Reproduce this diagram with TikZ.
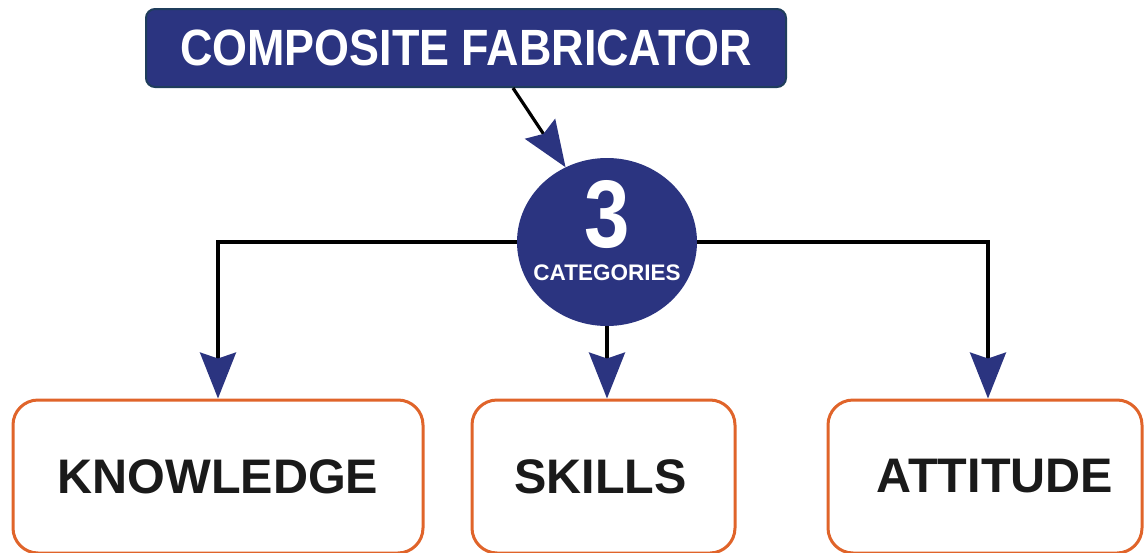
\documentclass[tikz,border=0pt]{standalone}
\usepackage{fontspec}
\setmainfont{Liberation Sans}
\usetikzlibrary{arrows.meta,shapes.geometric}
\definecolor{navy}{HTML}{2B3480}
\definecolor{navyedge}{HTML}{1F3D5C}
\definecolor{boxorange}{HTML}{E0642A}
\definecolor{ink}{HTML}{1A1A1A}
\tikzset{
  conn/.style={line width=3.2pt, black,
    -{Stealth[length=46pt,width=36pt,inset=6pt,color=navy]}},
  catbox/.style={draw=boxorange, line width=3pt, fill=white,
    rounded corners=25pt, inner sep=0pt, text=ink,
    font=\bfseries\fontsize{48.5}{50}\selectfont},
  titlebox/.style={draw=navyedge, line width=2pt, fill=navy,
    rounded corners=9pt, inner sep=0pt, text=white,
    minimum width=640pt, minimum height=78pt,
    font=\bfseries\fontsize{51}{54}\selectfont},
  hub/.style={ellipse, fill=navy, draw=none, inner sep=0pt,
    minimum width=180pt, minimum height=168pt},
  hubtext/.style={text=white, inner sep=0pt, anchor=base}
}
\begin{document}
\begin{tikzpicture}[x=1pt,y=-1pt]
\useasboundingbox (0,0) rectangle (1144,552);
\node[titlebox] (fab) at (466,48) {\scalebox{0.88}[1]{COMPOSITE FABRICATOR}};
\node[hub] (cat) at (607,242) {};
\node[hubtext, font=\bfseries\fontsize{96}{98}\selectfont] (three) at (607,247) {\scalebox{0.85}[1]{3}};
\node[hubtext, font=\bfseries\fontsize{22.5}{24}\selectfont] (catlabel) at (607,280) {CATEGORIES};
\node[catbox, minimum width=410pt, minimum height=153pt] (know) at (218,476.5) {KNOWLEDGE};
\node[catbox, minimum width=263pt, minimum height=153pt] (skills) at (603.5,476.5) {\hspace*{-6pt}SKILLS};
\node[catbox, minimum width=314pt, minimum height=153pt] (att) at (985,476.5) {\hspace*{20pt}ATTITUDE};
\draw[conn] ([xshift=47pt]fab.south) -- (cat.119);
\draw[conn] (cat.west) -| (know.north);
\draw[conn] (cat.south) -- (cat.south |- skills.north);
\draw[conn] (cat.east) -| ([xshift=3pt]att.north);
\end{tikzpicture}
\end{document}
